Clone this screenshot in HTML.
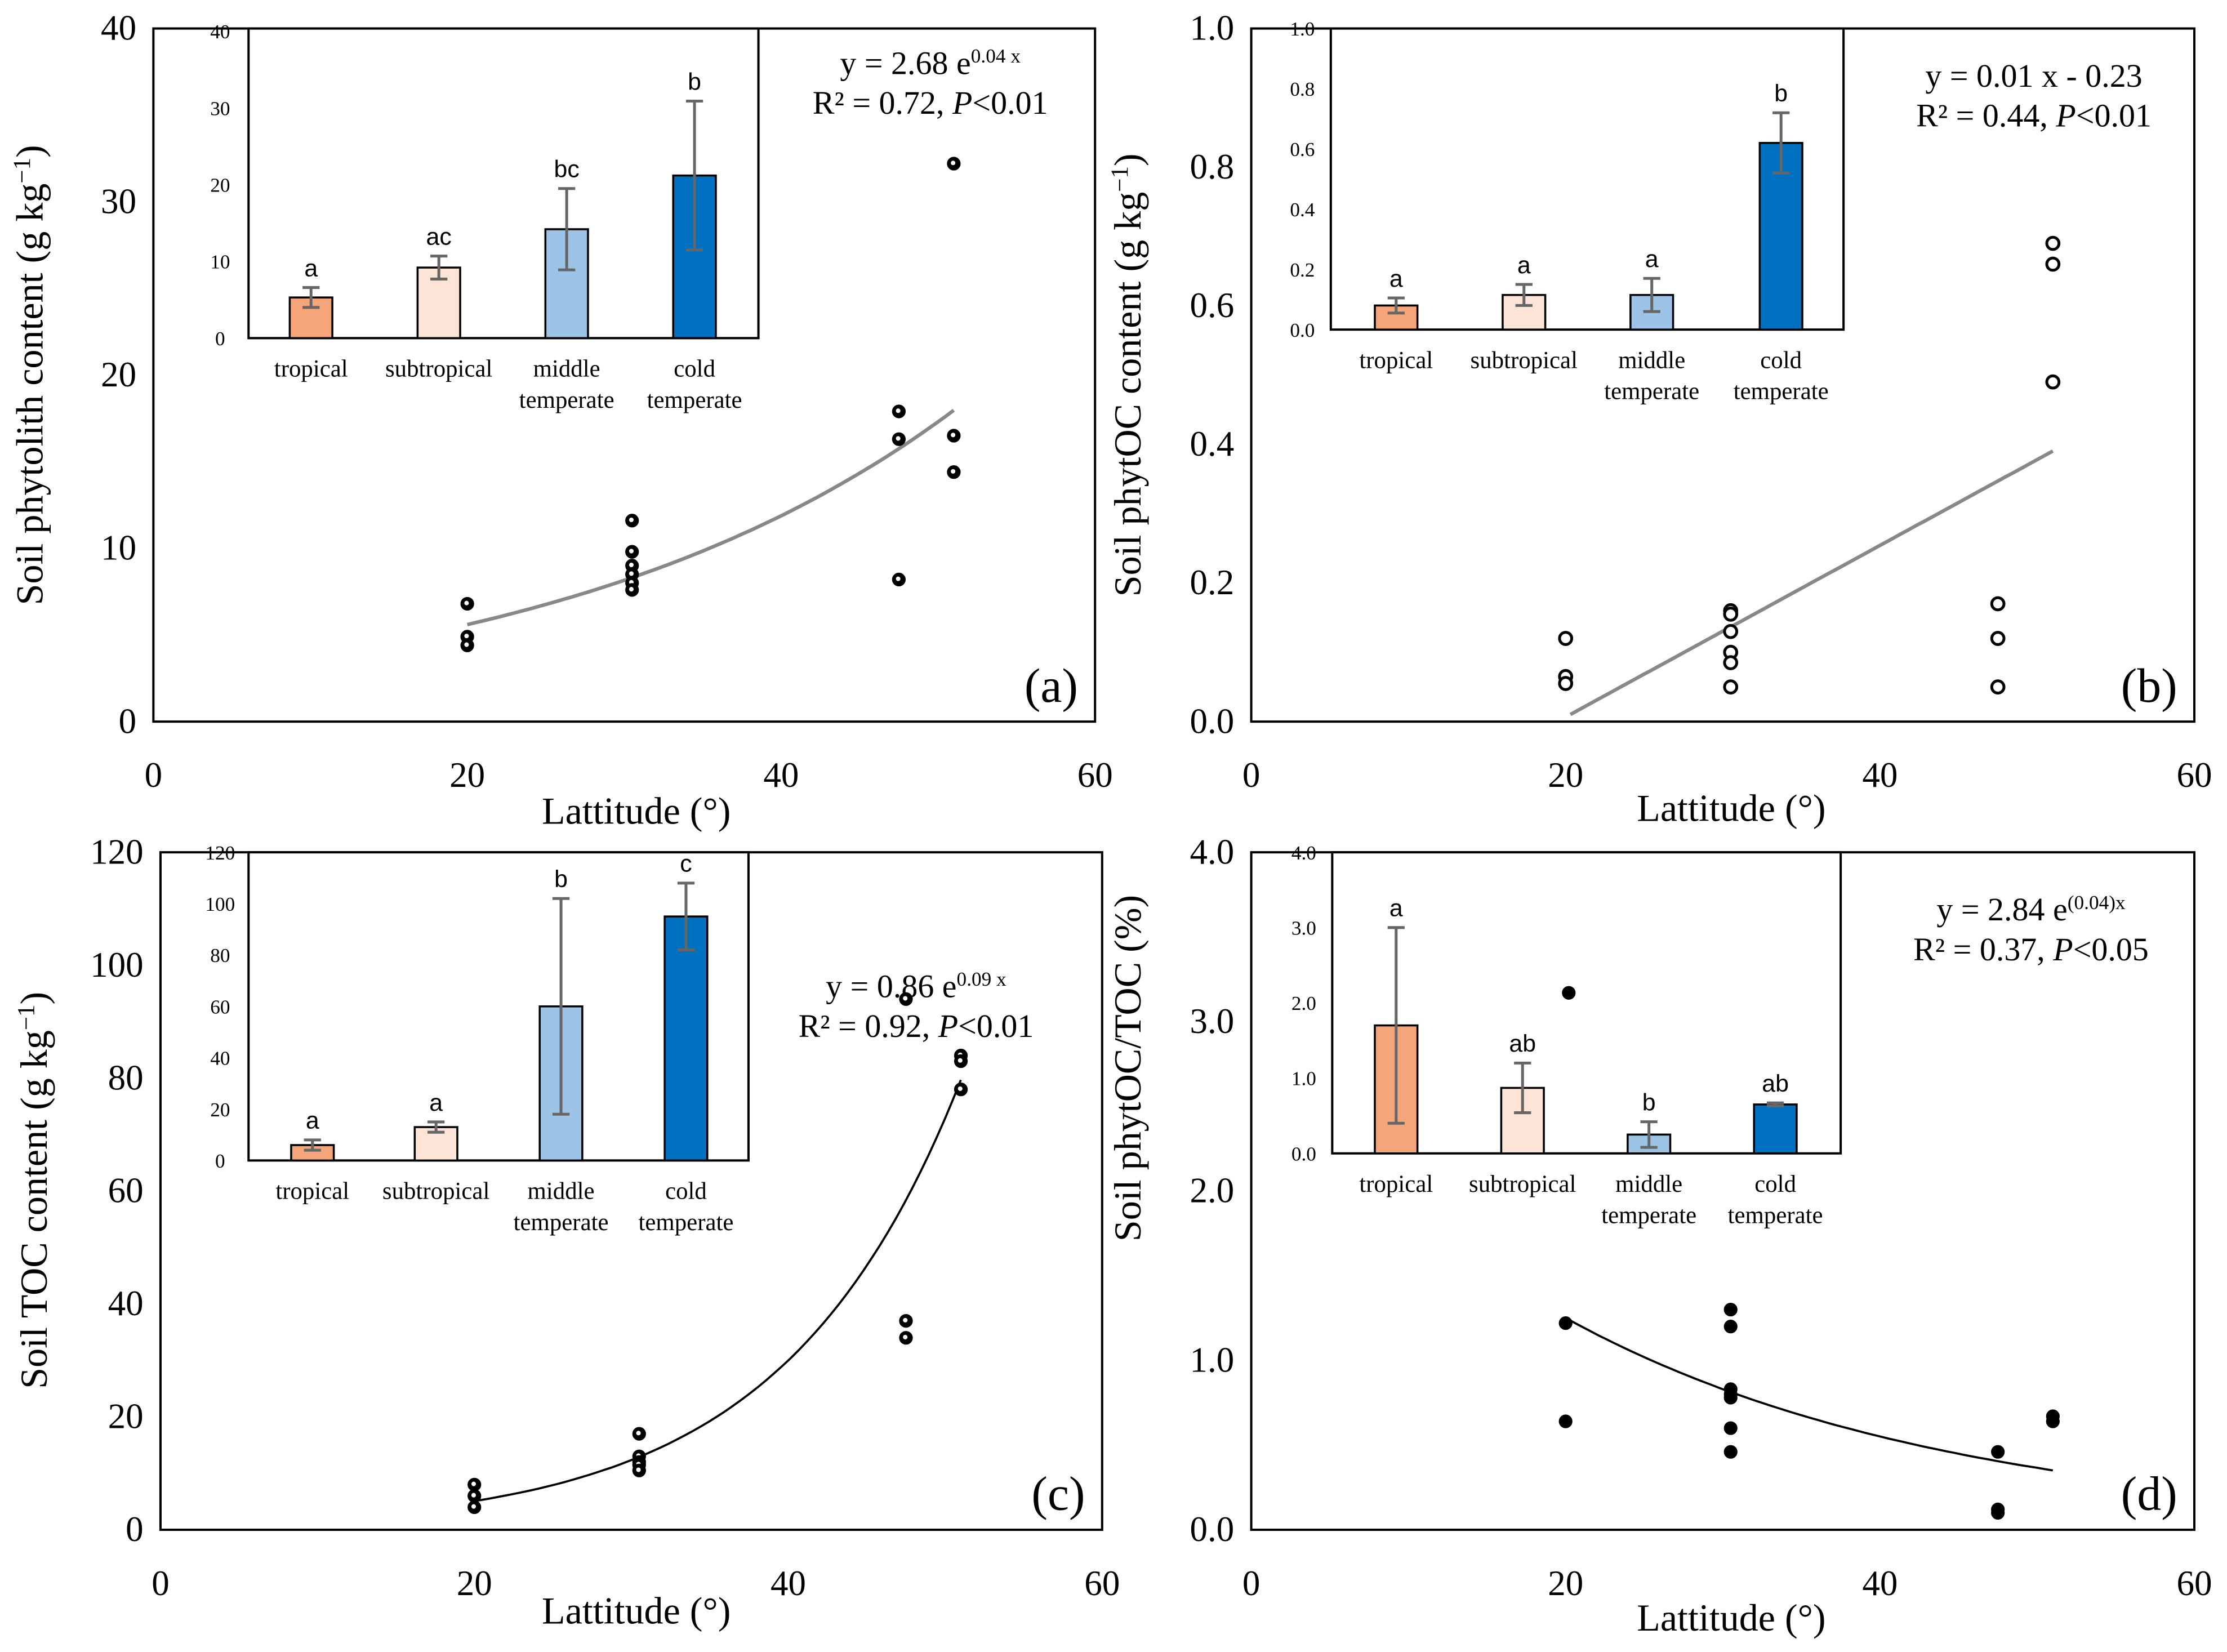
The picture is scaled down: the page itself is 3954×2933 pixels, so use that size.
<!DOCTYPE html>
<html><head><meta charset="utf-8"><style>
html,body{margin:0;padding:0;background:#fff}
svg{display:block;font-family:"Liberation Serif",serif}
</style></head><body>
<svg id="fig" xmlns="http://www.w3.org/2000/svg" width="3954" height="2933" viewBox="0 0 1568 1163"></svg>
<script>
// ---- data ----
const xTicks = [0, 20, 40, 60];
const categories = ["tropical", "subtropical", "middle|temperate", "cold|temperate"];
// panel a
const aPtsX = [20,20,20,30.5,30.5,30.5,30.5,30.5,30.5,47.5,47.5,47.5,51,51,51];
const aPtsY = [6.8,4.9,4.4,11.6,9.8,9.0,8.5,8.0,7.6,17.9,16.3,8.2,32.2,16.5,14.4];
const aFit = [2.64, 0.0376];
const aBars = [5.3, 9.2, 14.2, 21.2];
const aErr = [1.3, 1.5, 5.3, 9.7];
const aLetters = ["a","ac","bc","b"];
const aYTicks = [0,10,20,30,40];
const aInTicks = [0,10,20,30,40];
// panel b
const bPtsX = [20,20,20,30.5,30.5,30.5,30.5,30.5,30.5,47.5,47.5,47.5,51,51,51];
const bPtsY = [0.12,0.065,0.055,0.16,0.155,0.13,0.10,0.085,0.05,0.17,0.12,0.05,0.69,0.66,0.49];
const bFit = [0.01238, -0.241];
const bBars = [0.08, 0.115, 0.115, 0.62];
const bErr = [0.025, 0.035, 0.055, 0.1];
const bLetters = ["a","a","a","b"];
const bYTicks = ["0.0","0.2","0.4","0.6","0.8","1.0"];
const bInTicks = ["0.0","0.2","0.4","0.6","0.8","1.0"];
// panel c
const cPtsX = [20,20,20,30.5,30.5,30.5,30.5,30.5,47.5,47.5,47.5,51,51,51];
const cPtsY = [8,6,4,17,13,12,11.5,10.5,94,37,34,84,83,78];
const cFit = [0.86, 0.0888];
const cBars = [6, 13, 60, 95];
const cErr = [2, 2, 42, 13];
const cLetters = ["a","a","b","c"];
const cYTicks = [0,20,40,60,80,100,120];
const cInTicks = [0,20,40,60,80,100,120];
// panel d
const dPtsX = [20,20,20.2,30.5,30.5,30.5,30.5,30.5,30.5,30.5,47.5,47.5,47.5,51,51];
const dPtsY = [1.22,0.64,3.17,1.30,1.20,0.83,0.80,0.78,0.60,0.46,0.46,0.12,0.10,0.67,0.64];
const dFit = [2.84, -0.041];
const dBars = [1.7, 0.87, 0.25, 0.65];
const dErr = [1.3, 0.33, 0.17, 0.02];
const dLetters = ["a","ab","b","ab"];
const dYTicks = ["0.0","1.0","2.0","3.0","4.0"];
const dInTicks = ["0.0","1.0","2.0","3.0","4.0"];

const colors = ["#F4A57A","#FCE4D6","#9DC3E6","#0070C0"];
const NS = "http://www.w3.org/2000/svg";
const svg = document.getElementById("fig");
function mk(tag, attrs, parent){
  const e = document.createElementNS(NS, tag);
  for (const k in attrs) e.setAttribute(k, attrs[k]);
  (parent||svg).appendChild(e);
  return e;
}

function panel(cfg){
  const g = mk("g", {});
  
  
  const {x0,x1,yt,yb,ymax} = cfg;
  const sx = v => x0 + v/60*(x1-x0);
  const sy = v => yb - v/ymax*(yb-yt);
  const fr = mk("rect", {x:x0,y:yt,width:x1-x0,height:yb-yt,fill:"none",stroke:"#000","stroke-width":1.6}, g);
  
  
  xTicks.forEach(t=>{
    const e = mk("text",{x:sx(t),y:yb+cfg.xlabOff,"font-size":25,"text-anchor":"middle"},g);
    e.textContent = t;
    
    
  });
  cfg.yTicks.forEach(t=>{
    const e = mk("text",{x:x0-12,y:sy(parseFloat(t))+8,"font-size":25,"text-anchor":"end"},g);
    e.textContent = t;
    
    
  });
  const xl = mk("text",{x:cfg.xtX,y:cfg.xtY,"font-size":27,"text-anchor":"middle"},g);
  xl.textContent = "Lattitude (°)";
  
  
  const yl = mk("text",{x:0,y:0,"font-size":27,"text-anchor":"middle",transform:`translate(${cfg.ytX},${cfg.ytY}) rotate(-90)`},g);
  yl.innerHTML = cfg.ytitle;
  
  
  const pl = mk("text",{x:x1-12,y:yb-14,"font-size":34,"text-anchor":"end"},g);
  pl.textContent = "(" + cfg.id + ")";
  
  
  // equation
  const e1 = mk("text",{x:cfg.eqX,y:cfg.eqY,"font-size":23,"text-anchor":"middle"},g);
  e1.innerHTML = cfg.eq1;
  
  
  const e2 = mk("text",{x:cfg.eqX,y:cfg.eqY+28,"font-size":23,"text-anchor":"middle"},g);
  e2.innerHTML = cfg.eq2;
  
  
  // inset
  const ig = mk("g",{},g);
  
  
  const ib = mk("rect",{x:cfg.ix0,y:yt,width:cfg.ix1-cfg.ix0,height:cfg.iyb-yt,fill:"#fff",stroke:"#000","stroke-width":1.6},ig);
  
  
  const isy = v => cfg.iyb - v/cfg.imax*(cfg.iyb-cfg.iyt);
  cfg.inTicks.forEach(t=>{
    const e = mk("text",{x:cfg.ix0-20,y:isy(parseFloat(t))+5,"font-size":14,"text-anchor":"middle"},ig);
    e.textContent = t;
    
    
  });
  cfg.bars.forEach((v,i)=>{
    const cx = cfg.bc[i];
    const r = mk("rect",{x:cx-15,y:isy(v),width:30,height:cfg.iyb-isy(v),fill:colors[i],stroke:"#000","stroke-width":1.4},ig);
    
    
    const top = isy(v+cfg.err[i]), bot = isy(Math.max(0,v-cfg.err[i]));
    const eb = mk("path",{d:`M${cx},${top}L${cx},${bot}M${cx-6},${top}L${cx+6},${top}M${cx-6},${bot}L${cx+6},${bot}`,stroke:"#666","stroke-width":2,fill:"none"},ig);
    
    
    const lt = mk("text",{x:cx,y:top-8,"font-size":17,"text-anchor":"middle","font-family":"Liberation Sans, sans-serif"},ig);
    lt.textContent = cfg.letters[i];
    
    
    categories[i].split("|").forEach((s,j)=>{
      const ct = mk("text",{x:cx,y:cfg.iyb+27+j*22,"font-size":17,"text-anchor":"middle"},ig);
      ct.textContent = s;
      
      
    });
  });
  // fit
  let d = "";
  for (let i=0;i<=60;i++){
    const x = cfg.fx0 + (cfg.fx1-cfg.fx0)*i/60;
    const y = cfg.fitType==="lin" ? cfg.fit[0]*x + cfg.fit[1] : cfg.fit[0]*Math.exp(cfg.fit[1]*x);
    d += (i?"L":"M") + sx(x).toFixed(1) + "," + sy(y).toFixed(1);
  }
  const fl = mk("path",{d:d,fill:"none",stroke:cfg.fitColor,"stroke-width":cfg.fitW},g);
  
  
  // points
  cfg.px.forEach((x,i)=>{
    const c = mk("circle",{cx:sx(x),cy:sy(cfg.py[i]),r:4.3,
      fill: cfg.pstyle==="open" ? "#fff" : "#000", stroke:"#000","stroke-width":cfg.pstyle==="open"?2:1},g);
    
    
    if (cfg.pstyle==="half"){
      const h = mk("circle",{cx:sx(x)-0.5,cy:sy(cfg.py[i])-0.5,r:1.6,fill:"#fff"},g);
      
      
    }
  });
}

panel({id:"a",x0:108,x1:771,yt:20,yb:508,ymax:40,xlabOff:46,yTicks:aYTicks,
  xtX:448,xtY:580,ytX:30,ytY:264,ytitle:'Soil phytolith content (g kg<tspan dy="-9" font-size="17">−1</tspan><tspan dy="9">)</tspan>',
  fx0:20,fx1:51,fit:aFit,fitType:"exp",fitColor:"#888",fitW:2.5,px:aPtsX,py:aPtsY,pstyle:"half",
  eqX:655,eqY:52,eq1:'y = 2.68 e<tspan dy="-8" font-size="14">0.04 x</tspan>',eq2:'R² = 0.72, <tspan font-style="italic">P</tspan>&lt;0.01',
  ix0:175,ix1:534,iyb:238,iyt:22,imax:40,inTicks:aInTicks,bars:aBars,err:aErr,letters:aLetters,bc:[219,309,399,489]});
panel({id:"b",x0:881,x1:1545,yt:20,yb:508,ymax:1.0,xlabOff:46,yTicks:bYTicks,
  xtX:1219,xtY:578,ytX:803,ytY:264,ytitle:'Soil phytOC content (g kg<tspan dy="-9" font-size="17">−1</tspan><tspan dy="9">)</tspan>',
  fx0:20.3,fx1:51,fit:bFit,fitType:"lin",fitColor:"#888",fitW:2.5,px:bPtsX,py:bPtsY,pstyle:"open",
  eqX:1432,eqY:61,eq1:'y = 0.01 x - 0.23',eq2:'R² = 0.44, <tspan font-style="italic">P</tspan>&lt;0.01',
  ix0:937,ix1:1298,iyb:232,iyt:20,imax:1.0,inTicks:bInTicks,bars:bBars,err:bErr,letters:bLetters,bc:[983,1073,1163,1254]});
panel({id:"c",x0:113,x1:776,yt:600,yb:1077,ymax:120,xlabOff:46,yTicks:cYTicks,
  xtX:448,xtY:1143,ytX:33,ytY:838,ytitle:'Soil TOC content (g kg<tspan dy="-9" font-size="17">−1</tspan><tspan dy="9">)</tspan>',
  fx0:20,fx1:51,fit:cFit,fitType:"exp",fitColor:"#000",fitW:1.5,px:cPtsX,py:cPtsY,pstyle:"half",
  eqX:645,eqY:702,eq1:'y = 0.86 e<tspan dy="-8" font-size="14">0.09 x</tspan>',eq2:'R² = 0.92, <tspan font-style="italic">P</tspan>&lt;0.01',
  ix0:175,ix1:527,iyb:817,iyt:600,imax:120,inTicks:cInTicks,bars:cBars,err:cErr,letters:cLetters,bc:[220,307,395,483]});
panel({id:"d",x0:881,x1:1545,yt:600,yb:1077,ymax:4.0,xlabOff:46,yTicks:dYTicks,
  xtX:1219,xtY:1148,ytX:803,ytY:752,ytitle:'Soil phytOC/TOC (%)',
  fx0:20,fx1:51,fit:dFit,fitType:"exp",fitColor:"#000",fitW:1.5,px:dPtsX,py:dPtsY,pstyle:"solid",
  eqX:1430,eqY:648,eq1:'y = 2.84 e<tspan dy="-8" font-size="14">(0.04)x</tspan>',eq2:'R² = 0.37, <tspan font-style="italic">P</tspan>&lt;0.05',
  ix0:938,ix1:1296,iyb:812,iyt:600,imax:4.0,inTicks:dInTicks,bars:dBars,err:dErr,letters:dLetters,bc:[983,1072,1161,1250]});
</script>
</body></html>
